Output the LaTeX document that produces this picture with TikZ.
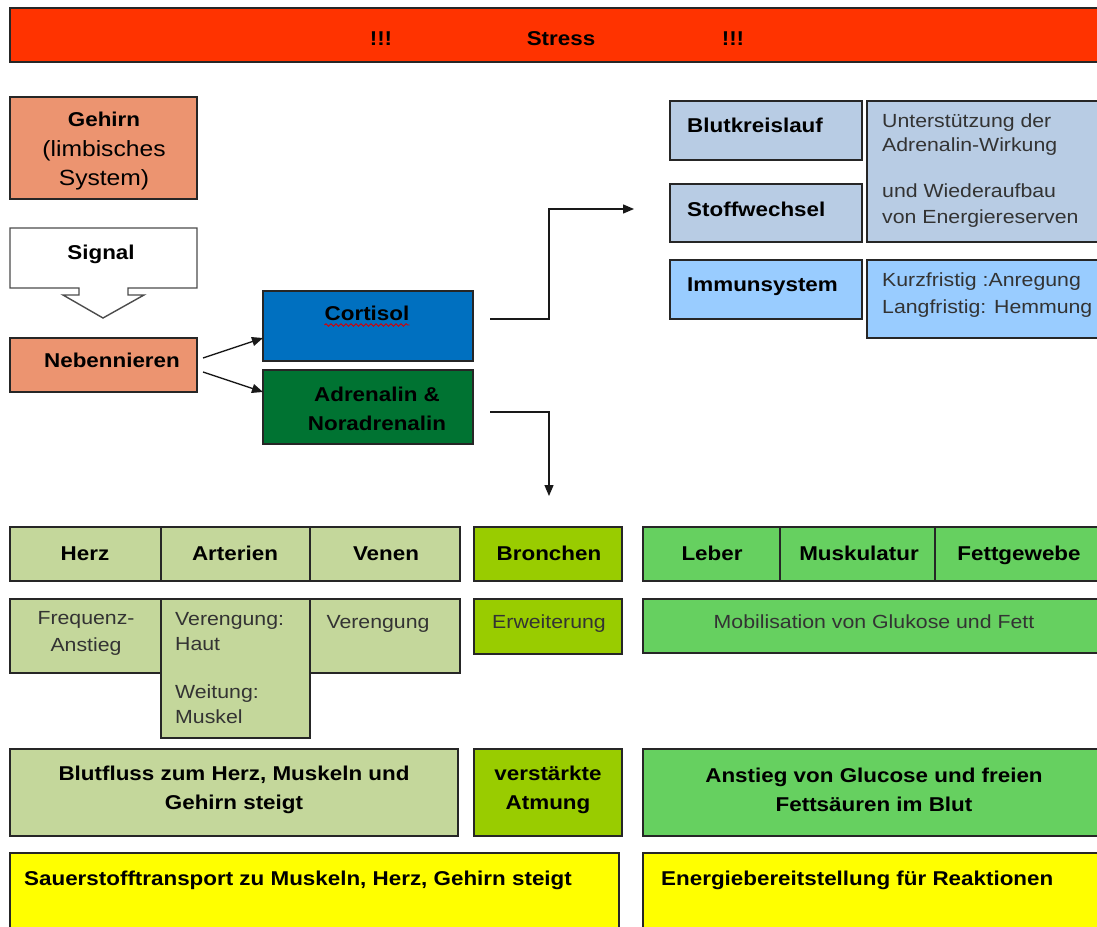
\documentclass[tikz,border=0pt]{standalone}
\usepackage{fontspec}
\setmainfont{Liberation Sans}[FakeStretch=1.12]
\usetikzlibrary{arrows.meta,decorations.pathmorphing,calc}
\definecolor{cRed}{RGB}{255,51,0}
\definecolor{cSalmon}{RGB}{236,148,112}
\definecolor{cBlue}{RGB}{0,112,192}
\definecolor{cDGreen}{RGB}{0,115,50}
\definecolor{cSteel}{RGB}{184,204,228}
\definecolor{cSky}{RGB}{153,204,255}
\definecolor{cOlive}{RGB}{196,215,155}
\definecolor{cLime}{RGB}{153,204,0}
\definecolor{cGreen}{RGB}{102,208,96}
\definecolor{cYellow}{RGB}{255,255,0}
\newcommand\bx[6]{\node[box,fill=#6,minimum width={(#4)-(#2)},minimum height={(#5)-(#3)}] (#1) at ({((#2)+(#4))/2},{((#3)+(#5))/2}) {};}
\begin{document}
\begin{tikzpicture}[x=1pt,y=-1pt,
  box/.style={draw=black!85,line width=1.4pt,inner sep=0pt,outer sep=0pt},
  bt/.style={font=\fontsize{20}{29}\selectfont\bfseries,text=black,inner sep=0pt,align=center},
  bt1/.style={bt,text height=14.3pt,text depth=0pt},
  rt/.style={font=\fontsize{19}{26}\selectfont,text=black!80,inner sep=0pt,align=center},
  rt1/.style={rt,text height=13.6pt,text depth=0pt},
  arr/.style={line width=1.3pt,draw=black!90,-{Triangle[length=11pt,width=9pt]}},
  ]
\useasboundingbox (0,0) rectangle (1097,926);
\fill[white] (0,0) rectangle (1097,926);
\clip (0,0) rectangle (1097,926);

% top bar
\bx{stress}{10}{8}{1110}{62}{cRed}
\node[bt1] (ex1) at (381,38) {!!!};
\node[bt1] (tstress) at (561,38) {Stress};
\node[bt1] (ex2) at (733,38) {!!!};

% left column
\bx{gehirn}{10}{97}{197}{199}{cSalmon}
\node[bt,font=\fontsize{20}{29}\selectfont] (tgehirn) at (104,151) {\bfseries Gehirn\\[1pt] \fontsize{22}{29}\selectfont\mdseries (limbisches\\ \fontsize{22}{29}\selectfont\mdseries System)};

\path[draw=black!70,line width=1.4pt,fill=white] (10,228) -- (197,228) -- (197,288) -- (128,288) -- (128,295) -- (144,295) -- (103,318) -- (63,295) -- (79,295) -- (79,288) -- (10,288) -- cycle;
\node[bt1] (tsignal) at (101,252) {Signal};

\bx{neb}{10}{338}{197}{392}{cSalmon}
\node[bt1] (tneb) at (112,360) {Nebennieren};

\bx{cort}{263}{291}{473}{361}{cBlue}
\node[bt1] (tcort) at (367,313) {Cortisol};
\draw[red!85!black,line width=0.9pt,decorate,decoration={snake,amplitude=1.3pt,segment length=5pt}] ([shift={(0,12)}]tcort.west) -- ([shift={(0,12)}]tcort.east);

\bx{adr}{263}{370}{473}{444}{cDGreen}
\node[bt] (tadr) at (377,409) {Adrenalin \&\\Noradrenalin};

\draw[arr] ([shift={(6,-7)}]neb.east) -- ([shift={(0,-23)}]cort.south west);
\draw[arr] ([shift={(6,7)}]neb.east) -- ([shift={(0,22)}]adr.north west);

\coordinate (t1) at (634,209);
\coordinate (t2) at (549,496);
\draw[arr] ([shift={(17,-7)}]cort.east) -- ++(59,0) |- (t1);
\draw[arr] ([shift={(17,5)}]adr.east) -| (t2);

% right upper column
\bx{blut}{670}{101}{862}{160}{cSteel}
\bx{stoff}{670}{184}{862}{242}{cSteel}
\bx{immun}{670}{260}{862}{319}{cSky}
\bx{unter}{867}{101}{1110}{242}{cSteel}
\bx{kurz}{867}{260}{1110}{338}{cSky}
\node[bt1,anchor=west] (tblut) at (687,125) {Blutkreislauf};
\node[bt1,anchor=west] (tstoff) at (687,209) {Stoffwechsel};
\node[bt1,anchor=west] (timmun) at (687,284) {Immunsystem};
\node[rt,anchor=west,align=left,font=\fontsize{19}{24}\selectfont] (tunter1) at (882,135) {Unterstützung der\\Adrenalin-Wirkung};
\node[rt,anchor=west,align=left] (tunter2) at (882,206) {und Wiederaufbau\\von Energiereserven};
\node[rt,anchor=west,align=left,font=\fontsize{19}{27}\selectfont] (tkurz) at (882,295) {Kurzfristig :Anregung\\Langfristig: Hemmung};

% organ rows
\bx{herz}{10}{527}{161}{581}{cOlive}
\bx{art}{161}{527}{310}{581}{cOlive}
\bx{ven}{310}{527}{460}{581}{cOlive}
\bx{bron}{474}{527}{622}{581}{cLime}
\bx{leber}{643}{527}{780}{581}{cGreen}
\bx{musk}{780}{527}{935}{581}{cGreen}
\bx{fett}{935}{527}{1110}{581}{cGreen}
\node[bt1] (therz) at (85,553) {Herz};
\node[bt1] (tart) at (235,553) {Arterien};
\node[bt1] (tven) at (386,553) {Venen};
\node[bt1] (tbron) at (549,553) {Bronchen};
\node[bt1] (tleber) at (712,553) {Leber};
\node[bt1] (tmusk) at (859,553) {Muskulatur};
\node[bt1] (tfett) at (1019,553) {Fettgewebe};

\bx{freq}{10}{599}{161}{673}{cOlive}
\bx{ven2}{310}{599}{460}{673}{cOlive}
\bx{art2}{161}{599}{310}{738}{cOlive}
\bx{erw}{474}{599}{622}{654}{cLime}
\bx{mobil}{643}{599}{1110}{653}{cGreen}
\node[rt,font=\fontsize{19}{27}\selectfont] (tfreq) at (86,633) {Frequenz-\\Anstieg};
\node[rt,anchor=west,align=left,font=\fontsize{19}{25}\selectfont] (tart2a) at (175,632) {Verengung:\\Haut};
\node[rt,anchor=west,align=left,font=\fontsize{19}{25}\selectfont] (tart2b) at (175,704) {Weitung:\\Muskel};
\node[rt1] (tven2) at (378,622) {Verengung};
\node[rt1] (terw) at (549,622) {Erweiterung};
\node[rt1] (tmobil) at (874,622) {Mobilisation von Glukose und Fett};

% result rows
\bx{blutfl}{10}{749}{458}{836}{cOlive}
\bx{atm}{474}{749}{622}{836}{cLime}
\bx{anst}{643}{749}{1110}{836}{cGreen}
\node[bt] (tblutfl) at (234,790) {Blutfluss zum Herz, Muskeln und\\Gehirn steigt};
\node[bt] (tatm) at (548,790) {verstärkte\\Atmung};
\node[bt] (tanst) at (874,790) {Anstieg von Glucose und freien\\Fettsäuren im Blut};

\bx{sauer}{10}{853}{619}{945}{cYellow}
\bx{energ}{643}{853}{1110}{945}{cYellow}
\node[bt1,anchor=west] (tsauer) at (24,878) {Sauerstofftransport zu Muskeln, Herz, Gehirn steigt};
\node[bt1,anchor=west] (tenerg) at (661,878) {Energiebereitstellung für Reaktionen};
\end{tikzpicture}
\end{document}
